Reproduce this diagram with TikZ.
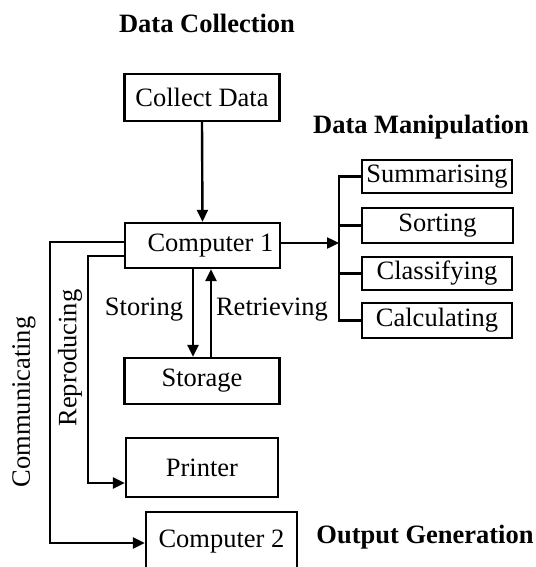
\documentclass[tikz,border=0pt]{standalone}
\usepackage{fontspec}
\setmainfont{Liberation Serif}
\usetikzlibrary{arrows.meta}
\begin{document}
\begin{tikzpicture}[x=1pt,y=-1pt,
  every node/.style={font=\fontsize{26.5}{31}\selectfont},
  box/.style={draw,line width=2.4pt,inner sep=0pt},
  mbox/.style={box,minimum width=155pt,minimum height=46pt},
  sbox/.style={box,minimum width=150pt,minimum height=34pt},
  title/.style={font=\fontsize{26.5}{31}\selectfont\bfseries},
  link/.style={line width=2.4pt},
  arr/.style={link,-{Triangle[length=12pt,width=11pt]}}]
\useasboundingbox (0,0) rectangle (535,567);

% section headings
\node[title] (h1) at (207,23) {Data Collection};
\node[title] (h2) at (421,127) {Data Manipulation};
\node[title] (h3) at (425,537) {Output Generation};

% main column
\node[mbox,minimum height=47pt] (cd) at (202,97.5) {Collect Data};
\node[mbox,minimum height=45pt] (c1) at (202.5,245.5) {\hspace*{16pt}Computer 1};
\node[mbox] (st) at (202,381) {Storage};
\node[mbox,minimum width=152pt,minimum height=59pt] (pr) at (202,467.5) {Printer};
\node[mbox,minimum width=151pt,minimum height=60pt] (c2) at (221.5,542) {Computer 2};

% manipulation boxes
\node[sbox,minimum height=33pt] (s1) at (437,176.5) {Summarising};
\node[sbox,minimum width=151pt,minimum height=35pt] (s2) at (437.5,225.5) {Sorting};
\node[sbox,minimum height=33pt] (s3) at (437,273.5) {Classifying};
\node[sbox,minimum height=35pt] (s4) at (437,320.5) {Calculating};

% collection to computer
\draw[arr] (cd.south) -- (c1.north);

% storing / retrieving
\draw[arr] ([xshift=-9.5pt]c1.south) -- ([xshift=-9.5pt]c1.south |- st.north);
\draw[arr] ([xshift=8.5pt]c1.south |- st.north) -- ([xshift=8.5pt]c1.south);
\node (lst) at (144,310) {Storing};
\node (lre) at (272,310) {Retrieving};

% manipulation branch
\coordinate (bj) at (339,243);
\coordinate (bt) at (339,176.5);
\coordinate (bb) at (339,320.5);
\draw[arr] (c1.east |- bj) -- (bj);
\draw[link] (s1.west) -- (bt) -- (bb) -- (s4.west);
\draw[link] (s2.west) -- (s2.west -| bj);
\draw[link] (s3.west) -- (s3.west -| bj);

% output paths
\draw[arr] ([yshift=3.5pt]c1.west) -- ++(-74,0) |- ([yshift=-1pt]c2.west);
\draw[arr] ([yshift=-10.5pt]c1.west) -- ++(-36,0) |- ([yshift=-15.5pt]pr.west);
\node[rotate=90] (lco) at (24,402) {Communicating};
\node[rotate=90] (lrp) at (70,358) {Reproducing};
\end{tikzpicture}
\end{document}
